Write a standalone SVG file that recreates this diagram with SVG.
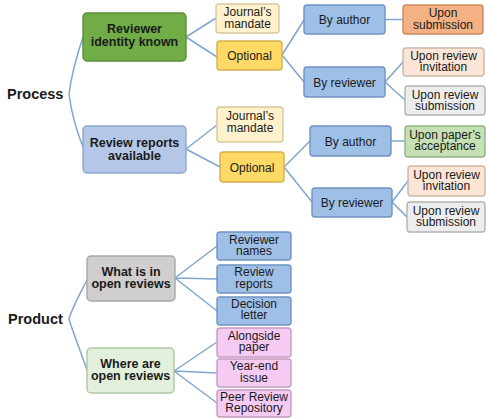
<svg xmlns="http://www.w3.org/2000/svg" width="486" height="419" viewBox="0 0 486 419">
<style>
text{font-family:"Liberation Sans",Arial,sans-serif;fill:#1a1a1a;text-anchor:middle}
.t{font-size:12px}
.b{font-size:12.5px;font-weight:bold}
.h{font-size:14.5px;font-weight:bold;text-anchor:start}
rect{stroke-width:1.4}
.green{fill:#70AD47;stroke:#5B8F3B}
.lblue{fill:#B4C7E7;stroke:#8EA6CF}
.cream{fill:#FFF2CC;stroke:#D8C79C}
.yellow{fill:#FFD966;stroke:#D4B04E}
.blue{fill:#9FC0E6;stroke:#6F93C2}
.orange{fill:#F4B183;stroke:#C98A5E}
.peach{fill:#FBE5D6;stroke:#CDB7A7}
.grey{fill:#EDEDED;stroke:#B3B3B3}
.mint{fill:#C5E0B4;stroke:#92B382}
.dgrey{fill:#D0CECE;stroke:#A8A8A8}
.pale{fill:#E2EFDA;stroke:#AFC7A2}
.pink{fill:#F6CBF3;stroke:#C59BC1}
#connectors path{fill:none;stroke:#7FA6CF;stroke-width:1.5}
</style>
<rect width="486" height="419" fill="#ffffff" style="stroke:none"/>
<g id="connectors">
<path d="M83,37 C77,55 71,78 69,94 C71,110 77,132 83,147"/>
<path d="M186,37 L216,18 M186,37 L217,57"/>
<path d="M282,55 L304,20 M282,55 L304,82"/>
<path d="M385,19.5 L403,19.5"/>
<path d="M385,82 L403,62 M385,82 L405,100"/>
<path d="M186,149 L217,125 M186,149 L220,167"/>
<path d="M284,167 L310,141 M284,167 L312,202"/>
<path d="M391,141 L405,141"/>
<path d="M392,202 L408,181 M392,202 L407,217"/>
<path d="M87,280 C81,292 72,308 69,319 C72,330 81,352 87,370"/>
<path d="M175,278 L217,246 M175,278 L217,279 M175,278 L217,311"/>
<path d="M174,371 L217,342 M174,371 L217,373 M174,371 L217,403"/>
</g>
<g id="process"><text class="h" x="7" y="99">Process</text></g>
<g id="reviewer-identity-known"><rect class="green" x="83" y="13" width="103" height="48" rx="4"/><text class="b" x="134.5" y="33">Reviewer</text><text class="b" x="134.5" y="46">identity known</text></g>
<g id="review-reports-available"><rect class="lblue" x="83" y="126" width="103" height="47" rx="4"/><text class="b" x="134.5" y="147">Review reports</text><text class="b" x="134.5" y="159.5">available</text></g>
<g id="journals-mandate-1"><rect class="cream" x="216" y="4" width="63" height="29" rx="3"/><text class="t" x="247.5" y="16">Journal’s</text><text class="t" x="247.5" y="27.5">mandate</text></g>
<g id="optional-1"><rect class="yellow" x="217" y="41" width="65" height="29" rx="3"/><text class="t" x="249.5" y="60">Optional</text></g>
<g id="journals-mandate-2"><rect class="cream" x="217" y="107" width="66" height="35" rx="3"/><text class="t" x="250" y="120">Journal’s</text><text class="t" x="250" y="132">mandate</text></g>
<g id="optional-2"><rect class="yellow" x="220" y="152" width="64" height="30" rx="3"/><text class="t" x="252" y="171.5">Optional</text></g>
<g id="by-author-1"><rect class="blue" x="304" y="5" width="81" height="29" rx="3"/><text class="t" x="344.5" y="24">By author</text></g>
<g id="by-reviewer-1"><rect class="blue" x="304" y="67" width="81" height="30" rx="3"/><text class="t" x="344.5" y="86.5">By reviewer</text></g>
<g id="upon-submission"><rect class="orange" x="403" y="5" width="80" height="29" rx="3"/><text class="t" x="443" y="17">Upon</text><text class="t" x="443" y="28.5">submission</text></g>
<g id="upon-review-invitation-1"><rect class="peach" x="403" y="48" width="81" height="28" rx="3"/><text class="t" x="443.5" y="60">Upon review</text><text class="t" x="443.5" y="71">invitation</text></g>
<g id="upon-review-submission-1"><rect class="grey" x="405" y="86" width="80" height="29" rx="3"/><text class="t" x="445" y="99">Upon review</text><text class="t" x="445" y="110">submission</text></g>
<g id="by-author-2"><rect class="blue" x="310" y="126" width="81" height="30" rx="3"/><text class="t" x="350.5" y="145.5">By author</text></g>
<g id="upon-papers-acceptance"><rect class="mint" x="405" y="126" width="80" height="31" rx="3"/><text class="t" x="445" y="139">Upon paper’s</text><text class="t" x="445" y="150">acceptance</text></g>
<g id="by-reviewer-2"><rect class="blue" x="312" y="188" width="80" height="29" rx="3"/><text class="t" x="352" y="207">By reviewer</text></g>
<g id="upon-review-invitation-2"><rect class="peach" x="408" y="166" width="77" height="30" rx="3"/><text class="t" x="446.5" y="178.5">Upon review</text><text class="t" x="446.5" y="189.5">invitation</text></g>
<g id="upon-review-submission-2"><rect class="grey" x="407" y="202" width="78" height="30" rx="3"/><text class="t" x="446" y="214.5">Upon review</text><text class="t" x="446" y="225.5">submission</text></g>
<g id="product"><text class="h" x="8" y="324">Product</text></g>
<g id="what-is-in-open-reviews"><rect class="dgrey" x="87" y="256" width="88" height="45" rx="4"/><text class="b" x="131" y="276">What is in</text><text class="b" x="131" y="288">open reviews</text></g>
<g id="where-are-open-reviews"><rect class="pale" x="87" y="348" width="87" height="45" rx="4"/><text class="b" x="130.5" y="367.5">Where are</text><text class="b" x="130.5" y="379.5">open reviews</text></g>
<g id="reviewer-names"><rect class="blue" x="217" y="232" width="74" height="28" rx="3"/><text class="t" x="254" y="243.5">Reviewer</text><text class="t" x="254" y="255">names</text></g>
<g id="review-reports"><rect class="blue" x="217" y="265" width="74" height="28" rx="3"/><text class="t" x="254" y="276">Review</text><text class="t" x="254" y="287.5">reports</text></g>
<g id="decision-letter"><rect class="blue" x="217" y="297" width="74" height="28" rx="3"/><text class="t" x="254" y="307.5">Decision</text><text class="t" x="254" y="319">letter</text></g>
<g id="alongside-paper"><rect class="pink" x="217" y="328" width="74" height="29" rx="3"/><text class="t" x="254" y="339.5">Alongside</text><text class="t" x="254" y="351">paper</text></g>
<g id="year-end-issue"><rect class="pink" x="217" y="359" width="74" height="28" rx="3"/><text class="t" x="254" y="370">Year-end</text><text class="t" x="254" y="381.5">issue</text></g>
<g id="peer-review-repository"><rect class="pink" x="217" y="390" width="74" height="27" rx="3"/><text class="t" x="254" y="400.5">Peer Review</text><text class="t" x="254" y="412">Repository</text></g>
</svg>
